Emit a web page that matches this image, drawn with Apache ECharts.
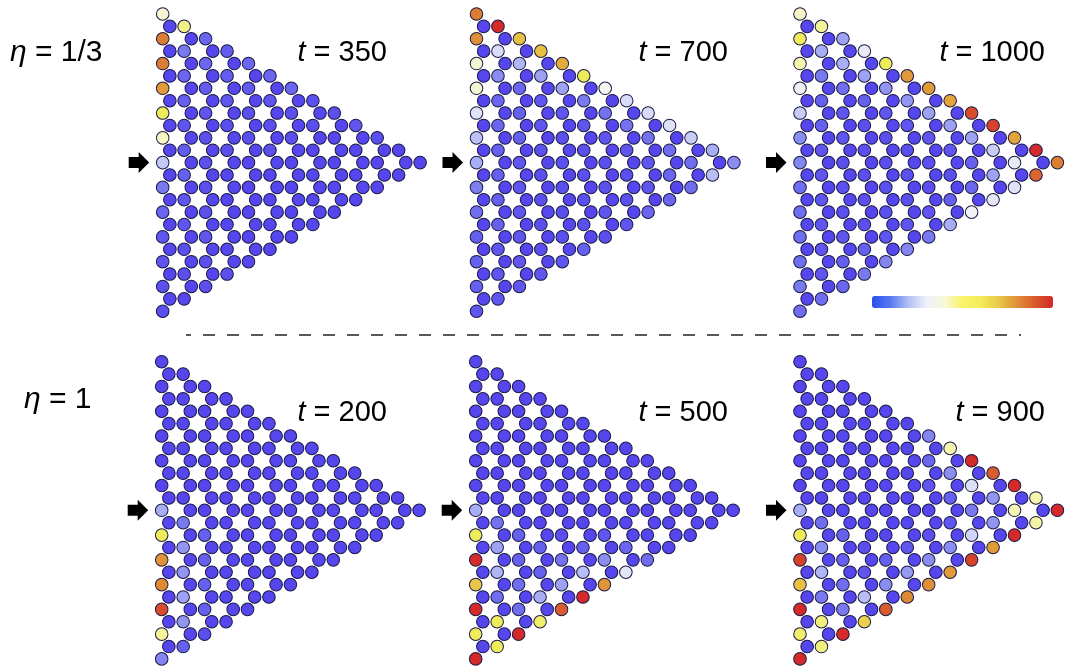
<!DOCTYPE html>
<html><head><meta charset="utf-8">
<script src="https://cdn.jsdelivr.net/npm/echarts@6/dist/echarts.min.js"></script>
<style>html,body{margin:0;padding:0;background:#fff}#c{width:1075px;height:669px}</style>
</head><body><div id="c"></div>
<script>
// ---- data ----
const panelTimes = ['350', '700', '1000', '200', '500', '900'];
const etaLabels = ['1/3', '1'];
// colour level of each site, row by row (row 0 = top), sites left to right
const p350 = [
  [5.5],
  [0, 6.5],
  [9, 0, 1],
  [0, 1.5, 0, 0.7],
  [9, 0, 1, 0, 1],
  [0, 1, 0, 0.7, 0, 1],
  [8.5, 0, 0.7, 0, 0.7, 0, 1],
  [0, 0.8, 0, 0.5, 0, 0.5, 0, 0.3],
  [7, 0, 0.5, 0, 0.3, 0, 0.3, 0, 0.3],
  [0, 0.5, 0, 0.3, 0, 0.3, 0, 0.3, 0, 0.5],
  [5.8, 0, 0.3, 0, 0.3, 0, 0.3, 0, 0, 0, 0.3],
  [0, 0.7, 0, 0.3, 0, 0.3, 0, 0, 0, 0, 0, 0],
  [3.5, 0, 0.3, 0, 0, 0, 0, 0, 0, 0, 0, 0, 0],
  [0, 0.8, 0, 0, 0, 0, 0, 0, 0, 0, 0, 0],
  [1.5, 0, 0.3, 0, 0, 0, 0, 0, 0, 0, 0],
  [0, 0.5, 0, 0, 0, 0, 0, 0, 0, 0],
  [1, 0, 0.3, 0, 0, 0, 0, 0, 0],
  [0, 0.5, 0, 0, 0, 0, 0, 0],
  [0.5, 0, 0.5, 0, 0, 0, 0],
  [0, 0.3, 0, 0, 0, 0],
  [0.5, 0, 0.3, 0, 0],
  [0, 0.3, 0, 0.3],
  [0.3, 0, 0.3],
  [0, 0],
  [0.3]
];
const p700 = [
  [9],
  [0, 10],
  [8.7, 0, 7.8],
  [0, 4, 0, 7.8],
  [5.5, 0, 3, 0, 8.2],
  [0, 2, 0, 2.5, 0, 7],
  [5.5, 0, 1, 0, 2.5, 0, 5],
  [0, 1, 0, 0.5, 0, 1.5, 0, 4],
  [4.3, 0, 0.8, 0, 0.5, 0, 1.3, 0, 4],
  [0, 1, 0, 0.5, 0, 0.5, 0, 1.3, 0, 4.3],
  [3.3, 0, 0.8, 0, 0.3, 0, 0.5, 0, 1.3, 0, 3.6],
  [0, 0.8, 0, 0.3, 0, 0.3, 0, 0.5, 0, 1.2, 0, 2.8],
  [2.8, 0, 0.5, 0, 0.3, 0, 0.3, 0, 0.5, 0, 1.2, 0, 2],
  [0, 0.8, 0, 0.3, 0, 0.3, 0, 0.3, 0, 1, 0, 3.2],
  [1.6, 0, 0.5, 0, 0.3, 0, 0.3, 0, 0.5, 0, 1.2],
  [0, 0.8, 0, 0.3, 0, 0.3, 0, 0.3, 0, 1],
  [1.2, 0, 0.5, 0, 0.3, 0, 0.5, 0, 1],
  [0, 0.8, 0, 0.3, 0, 0.3, 0, 0.5],
  [0.8, 0, 0.5, 0, 0.3, 0, 0.3],
  [0, 0.5, 0, 0.3, 0, 0.8],
  [0.8, 0, 0.5, 0, 0.5],
  [0, 0.5, 0, 0.5],
  [0.8, 0, 0.5],
  [0, 0.5],
  [0.5]
];
const p1000 = [
  [5.7],
  [0, 6.3],
  [7, 0, 2.5],
  [0, 2.8, 0, 4.6],
  [6.1, 0, 2.8, 0, 7],
  [0, 1.5, 0, 2.5, 0, 8.5],
  [4.8, 0, 1.2, 0, 2.2, 0, 8.5],
  [0, 0.8, 0, 0.8, 0, 2.2, 0, 8.3],
  [3.6, 0, 0.5, 0, 0.5, 0, 2.5, 0, 9.6],
  [0, 0.8, 0, 0.3, 0, 0.5, 0, 2.5, 0, 9.7],
  [2, 0, 0.5, 0, 0.3, 0, 0.5, 0, 2.5, 0, 8.3],
  [0, 0.5, 0, 0.3, 0, 0.3, 0, 0.5, 0, 3.6, 0, 10],
  [1.8, 0, 0.3, 0, 0.3, 0, 0.3, 0, 0.8, 0, 4.6, 0, 9],
  [0, 0.5, 0, 0.3, 0, 0.3, 0, 0.3, 0, 2.5, 0, 9.3],
  [1.2, 0, 0.3, 0, 0.3, 0, 0.3, 0, 1, 0, 4.3],
  [0, 0.5, 0, 0.3, 0, 0.3, 0, 0.8, 0, 4.4],
  [1.2, 0, 0.3, 0, 0.3, 0, 0.5, 0, 4.9],
  [0, 0.5, 0, 0.3, 0, 0.5, 0, 2.8],
  [1.2, 0, 0.5, 0, 0.5, 0, 1.5],
  [0, 0.5, 0, 0.8, 0, 1.8],
  [1.2, 0, 0.8, 0, 1.8],
  [0, 0.5, 0, 1.5],
  [1.5, 0, 1],
  [0, 1.2],
  [1.2]
];
const p200 = [
  [0],
  [0, 0],
  [0, 0, 0],
  [0, 0, 0, 0],
  [0, 0, 0, 0, 0],
  [0, 0, 0, 0, 0, 0],
  [0, 0, 0, 0, 0, 0, 0],
  [0, 0, 0, 0, 0, 0, 0, 0],
  [0, 0, 0, 0, 0, 0, 0, 0, 0],
  [0, 0, 0, 0, 0, 0, 0, 0, 0, 0],
  [0, 0, 0, 0, 0, 0, 0, 0, 0, 0, 0],
  [0, 0, 0, 0, 0, 0, 0, 0, 0, 0, 0, 0],
  [2.8, 0, 0, 0, 0, 0, 0, 0, 0, 0, 0, 0, 0],
  [0, 1.5, 0, 0, 0, 0, 0, 0, 0, 0, 0, 0],
  [7, 0, 0.8, 0, 0, 0, 0, 0, 0, 0, 0],
  [0, 2.2, 0, 0, 0, 0, 0, 0, 0, 0],
  [8.6, 0, 0.8, 0, 0, 0, 0, 0, 0],
  [0, 2.2, 0, 0, 0, 0, 0, 0],
  [8.8, 0, 0.8, 0, 0, 0, 0],
  [0, 2.5, 0, 0, 0, 0],
  [9.6, 0, 0.8, 0, 0],
  [0, 2.2, 0, 0],
  [6.3, 0, 0.3],
  [0, 0.8],
  [1.8]
];
const p500 = [
  [0],
  [0, 0],
  [0, 0, 0],
  [0, 0, 0, 0],
  [0, 0, 0, 0, 0],
  [0, 0, 0, 0, 0, 0],
  [0, 0, 0, 0, 0, 0, 0],
  [0, 0, 0, 0, 0, 0, 0, 0],
  [0, 0, 0, 0, 0, 0, 0, 0, 0],
  [0, 0, 0, 0, 0, 0, 0, 0, 0, 0],
  [0, 0, 0, 0, 0, 0, 0, 0, 0, 0, 0],
  [0, 0, 0, 0, 0, 0, 0, 0, 0, 0, 0, 0],
  [2.8, 0, 0, 0, 0, 0, 0, 0, 0, 0, 0, 0, 0],
  [0, 1.3, 0, 0, 0, 0, 0, 0, 0, 0, 0, 0],
  [7, 0, 0.8, 0, 0.3, 0, 0.5, 0, 0, 0, 0],
  [0, 2.5, 0, 0.8, 0, 0.8, 0, 1, 0, 0],
  [10, 0, 0.8, 0, 1.3, 0, 2, 0, 1.2],
  [0, 3, 0, 0.8, 0, 3.2, 0, 4.4],
  [7.7, 0, 1.2, 0, 2.5, 0, 8.6],
  [0, 1.2, 0, 2.8, 0, 10],
  [10, 0, 1.2, 0, 9.4],
  [0, 7, 0, 6.8],
  [7, 0, 10],
  [0, 7],
  [10]
];
const p900 = [
  [0],
  [0, 0],
  [0, 0, 0],
  [0, 0, 0, 0],
  [0, 0, 0, 0, 0],
  [0, 0, 0, 0, 0, 0],
  [0, 0, 0, 0, 0, 0, 1.8],
  [0, 0, 0, 0, 0, 0, 0, 6.1],
  [0, 0, 0, 0, 0, 0, 1, 0, 10],
  [0, 0, 0, 0, 0, 0, 0, 2, 0, 9.4],
  [0, 0, 0, 0, 0, 0, 0.5, 0, 4.2, 0, 10],
  [0, 0, 0, 0, 0, 0, 0, 0.8, 0, 2.2, 0, 6.1],
  [2.8, 0, 0, 0, 0, 0, 0, 0, 1.5, 0, 6, 0, 10],
  [0, 1.2, 0, 0, 0, 0, 0, 0.5, 0, 2.2, 0, 6.2],
  [7, 0, 0.8, 0, 0, 0, 0.3, 0, 3.8, 0, 10],
  [0, 2, 0, 0.3, 0, 0.5, 0, 2, 0, 8.5],
  [9.7, 0, 0.8, 0, 0.8, 0, 2, 0, 9.7],
  [0, 3, 0, 0.5, 0, 2.3, 0, 8.5],
  [7.8, 0, 1.2, 0, 2, 0, 8.7],
  [0, 1.5, 0, 3.2, 0, 8.8],
  [10, 0, 1.5, 0, 9.4],
  [0, 6.6, 0, 7.5],
  [6.8, 0, 10],
  [0, 6.6],
  [10]
];
const panels = [p350, p700, p1000, p200, p500, p900];

// ---- styling / layout ----
const atomColors = ['#5546ee', '#6a66ef', '#8a8ef0', '#b0b6f4', '#d8dcf8', '#f4f4f0',
  '#f6f6b4', '#eeec58', '#e6b63e', '#dc7e32', '#d42a2a'];
const barColors = ['#2a50ee', '#5878f0', '#b0c0f4', '#eef0fa', '#f8f8d8', '#f8f46a',
  '#f4ec58', '#e8c848', '#e09038', '#d85a2a', '#d42828'];
const FONT = 'Liberation Sans, Arial, Helvetica, sans-serif';
const A = 14.3;                       // px per lattice unit
const ROWH = A * Math.sqrt(3) / 2;    // px per row
const gridLefts = [162.7, 476.5, 800, 161.7, 475.7, 800];
const gridTops = [14, 14, 14, 361.7, 361.7, 361.7];
const tRight = [387, 728, 1045, 387, 728, 1045];

function latticeU(r, j) {
  if (r % 2 === 0) return j === 0 ? 0 : Math.floor((j + 1) / 2) * 3 - (j % 2);
  return Math.floor(j / 2) * 3 + 0.5 + (j % 2);
}

const grid = [], xAxis = [], yAxis = [], series = [], graphic = [], title = [];
panels.forEach((rows, i) => {
  grid.push({ left: gridLefts[i], top: gridTops[i], width: 18 * A, height: 24 * ROWH });
  xAxis.push({ type: 'value', gridIndex: i, min: 0, max: 18, show: false });
  yAxis.push({ type: 'value', gridIndex: i, min: 0, max: 24, inverse: true, show: false });
  const data = [];
  rows.forEach((row, r) => row.forEach((v, j) => data.push([latticeU(r, j), r, v])));
  series.push({
    type: 'scatter', xAxisIndex: i, yAxisIndex: i, data, symbolSize: 12.6,
    itemStyle: { borderColor: '#1c1a48', borderWidth: 1, opacity: 1 },
    silent: true, clip: false
  });
  const gx = gridLefts[i], cy = gridTops[i] + 12 * ROWH;
  graphic.push({
    type: 'polygon', silent: true,
    shape: { points: [[gx - 34, cy - 5.5], [gx - 24, cy - 5.5], [gx - 24, cy - 10.5], [gx - 13.5, cy],
      [gx - 24, cy + 10.5], [gx - 24, cy + 5.5], [gx - 34, cy + 5.5]] },
    style: { fill: '#000' }
  });
  title.push({
    text: '{i|t} = ' + panelTimes[i], right: 1075 - tRight[i], top: gridTops[i] + (i < 3 ? 24.5 : 36.5),
    padding: 0,
    textStyle: { fontSize: 29, fontWeight: 'normal', fontFamily: FONT, color: '#000',
      rich: { i: { fontStyle: 'italic', fontSize: 29, fontFamily: FONT, color: '#000' } } }
  });
});
// dummy series carrying the colour bar
series.push({ type: 'scatter', xAxisIndex: 0, yAxisIndex: 0, data: [], silent: true });

etaLabels.forEach((lab, k) => {
  title.push({
    text: '{i|η} = ' + lab, left: k === 0 ? 10 : 24, top: k === 0 ? 38 : 385, padding: 0,
    textStyle: { fontSize: 30, fontWeight: 'normal', fontFamily: FONT, color: '#000',
      rich: { i: { fontStyle: 'italic', fontSize: 30, fontFamily: FONT, color: '#000' } } }
  });
});

graphic.push({
  type: 'line', silent: true,
  shape: { x1: 186, y1: 335, x2: 1021, y2: 335 },
  style: { stroke: '#222', lineWidth: 1.4, lineDash: [12, 12], lineDashOffset: 7 }
});

const chart = echarts.init(document.getElementById('c'), null, { renderer: 'canvas' });
chart.setOption({
  animation: false,
  backgroundColor: '#fff',
  title, grid, xAxis, yAxis, series, graphic,
  visualMap: [
    { type: 'continuous', show: false, seriesIndex: [0, 1, 2, 3, 4, 5], dimension: 2,
      min: 0, max: 10, inRange: { color: atomColors } },
    { type: 'continuous', show: true, seriesIndex: 6, min: 0, max: 1, orient: 'horizontal',
      left: 867, top: 291, itemWidth: 12, itemHeight: 181, calculable: false, hoverLink: false,
      padding: 5, text: null, inRange: { color: barColors } }
  ]
});
</script>
</body></html>
